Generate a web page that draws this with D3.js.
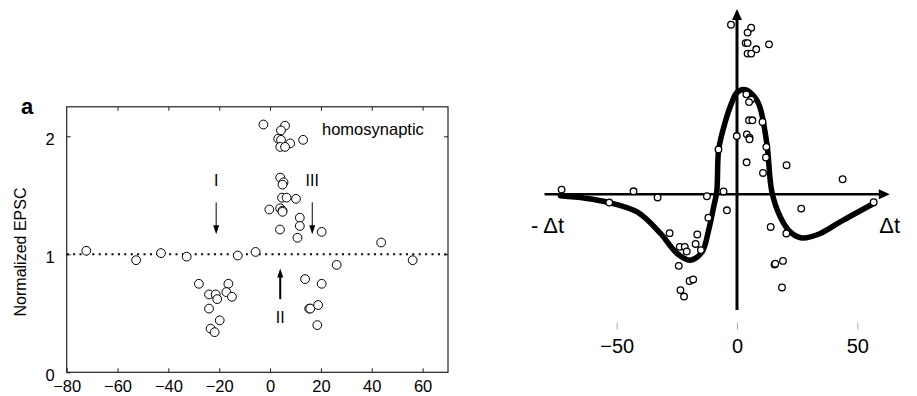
<!DOCTYPE html>
<html><head><meta charset="utf-8">
<script src="https://cdn.jsdelivr.net/npm/d3@7"></script>
<style>
body{margin:0;background:#fff;}
text{font-family:"Liberation Sans",Arial,Helvetica,sans-serif;fill:#000;}
</style></head>
<body><svg id="c" width="917" height="396"></svg>
<script>
// ---------- Panel a (left) data ----------
const leftDt   = [-2.6,5.9,4.3,3.2,4.3,7.9,13.0,4.0,5.9, 4.0,5.3,4.9, 4.7,6.5,10.2, -0.3,4.0,4.9,4.9, 11.7,11.7,3.9,20.3,10.8,43.7,
  -72.3,-52.7,-42.9,-32.8,-12.7,-5.7,26.2,56.1,
  -28,-24,-21.4,-20.8,-24,-16.4,-17.2,-15,-19.8,-23.4,-21.8,
  13.8,20.3,15.4,15.8,18.9,18.6];
const leftEPSC = [2.10,2.09,2.05,1.98,1.97,1.94,1.97,1.91,1.91, 1.65,1.61,1.59, 1.48,1.48,1.47, 1.38,1.39,1.37,1.36, 1.31,1.24,1.21,1.19,1.14,1.10,
  1.03,0.95,1.01,0.98,0.99,1.02,0.91,0.95,
  0.75,0.66,0.66,0.62,0.54,0.75,0.68,0.64,0.44,0.37,0.34,
  0.79,0.75,0.54,0.54,0.57,0.40];
const leftXTicks = [-80,-60,-40,-20,0,20,40,60];
const leftYTicks = [0,1,2];
const leftXDomain = [-80,70];
const leftYDomain = [0,2.25];
const baselineValue = 1;
// annotations: label, dt, label value, arrow from, arrow to
const arrowLabels = ["I","III","II"];
const arrowDt     = [-21.2,16.6,4.0];
const arrowTextV  = [1.63,1.63,0.47];
const arrowFromV  = [1.44,1.44,0.62];
const arrowToV    = [1.17,1.17,0.88];
const arrowWidth  = [1,1,2];

// ---------- Panel b (right) data ----------
const rightDt = [-2.5,5.9,4.4,3.6,4.4,8.0,13.3,4.4,5.9, 3.9,5.9,5.0, 5.0,6.4,10.6, -0.1,4.1,5.2,5.2, -7.7,12.2,12.0,4.0,20.6,10.8,43.9,
  -72.9,-43.0,-33.0,-12.5,-5.6,-53.1,56.8,-4.2,-11.9,
  -28.0,-16.5,-17.2,-23.8,-21.7,-20.9,-15.0,-24.2,-19.7,-18.2,-23.5,-22.0,
  26.7,14.0,20.5,15.6,15.9,19.1,18.7];
const rightEPSC = [2.098,2.079,2.047,1.979,1.979,1.939,1.971,1.911,1.911, 1.647,1.613,1.597, 1.479,1.479,1.468, 1.377,1.388,1.367,1.356, 1.290,1.307,1.238,1.207,1.188,1.138,1.097,
  1.030,1.019,0.979,0.987,1.018,0.946,0.948,0.896,0.848,
  0.748,0.739,0.678,0.659,0.659,0.629,0.638,0.536,0.438,0.448,0.379,0.337,
  0.907,0.788,0.746,0.544,0.550,0.568,0.396];
const fitDt   = [-73.4,-63.0,-53.1,-41.5,-31.9,-24.9,-19.4,-14.5,-11.8,-9.7,-8.4,-7.6,-4.9,-2.1,-0.3,2.7,5.5,8.3,9.7,12.5,14.5,18.0,22.1,27.0,34.6,42.9,56.8];
const fitEPSC = [0.990,0.974,0.946,0.885,0.748,0.616,0.573,0.627,0.767,0.918,1.019,1.291,1.468,1.597,1.654,1.678,1.660,1.608,1.555,1.317,1.015,0.853,0.756,0.717,0.746,0.821,0.940];
const rightXTicks = [-50,0,50];
const rightXDomain = [-80,63.5];
const rightYDomain = [0.25,2.2];

const svg = d3.select("#c");
const FONT = "Liberation Sans, Arial, sans-serif";

// ================= LEFT PANEL =================
const xL = d3.scaleLinear().domain(leftXDomain).range([66.7,448]);
const yL = d3.scaleLinear().domain(leftYDomain).range([372.3,106.8]);
const gL = svg.append("g");

gL.append("rect").attr("x",xL(leftXDomain[0])).attr("y",yL(leftYDomain[1]))
  .attr("width",xL(leftXDomain[1])-xL(leftXDomain[0])).attr("height",yL(leftYDomain[0])-yL(leftYDomain[1]))
  .attr("fill","none").attr("stroke","#222").attr("stroke-width",1.2);

const intFmt = d3.format("d");
const axB = gL.append("g").attr("transform",`translate(0,${yL(0)})`)
  .call(d3.axisBottom(xL).tickValues(leftXTicks).tickFormat(intFmt).tickSizeInner(-4).tickSizeOuter(0).tickPadding(8));
const axT = gL.append("g").attr("transform",`translate(0,${yL(leftYDomain[1])})`)
  .call(d3.axisTop(xL).tickValues(leftXTicks.slice(1)).tickSizeInner(-4).tickSizeOuter(0).tickFormat(""));
const axLf = gL.append("g").attr("transform",`translate(${xL(leftXDomain[0])},0)`)
  .call(d3.axisLeft(yL).tickValues(leftYTicks).tickFormat(intFmt).tickSizeInner(-4).tickSizeOuter(0).tickPadding(12));
const axR = gL.append("g").attr("transform",`translate(${xL(leftXDomain[1])},0)`)
  .call(d3.axisRight(yL).tickValues(leftYTicks.slice(1)).tickSizeInner(-4).tickSizeOuter(0).tickFormat(""));
[axB,axT,axLf,axR].forEach(a=>{a.select(".domain").remove();a.selectAll("line").attr("stroke","#222");
  a.selectAll("text").attr("font-size",16.5).attr("font-family",FONT).attr("fill","#000");});
axLf.selectAll("text").attr("dy","0.5em");

gL.append("line").attr("x1",xL(leftXDomain[0])).attr("x2",xL(leftXDomain[1]))
  .attr("y1",yL(baselineValue)).attr("y2",yL(baselineValue))
  .attr("stroke","#000").attr("stroke-width",2).attr("stroke-dasharray","2,4.4");

arrowLabels.forEach((lab,i)=>{
  const x=xL(arrowDt[i]), y0=yL(arrowFromV[i]), y1=yL(arrowToV[i]);
  const dir = y1>y0?1:-1;
  gL.append("line").attr("x1",x).attr("x2",x).attr("y1",y0).attr("y2",y1-dir*7)
    .attr("stroke","#000").attr("stroke-width",arrowWidth[i]);
  gL.append("path").attr("d",`M${x},${y1} L${x-3},${y1-dir*9} L${x+3},${y1-dir*9} Z`).attr("fill","#000");
  gL.append("text").attr("x",x).attr("y",yL(arrowTextV[i])).attr("dy","0.36em")
    .attr("text-anchor","middle").attr("font-size",16).attr("fill","#000").text(lab);
});

gL.selectAll("circle.p").data(d3.range(leftDt.length)).join("circle")
  .attr("cx",i=>xL(leftDt[i])).attr("cy",i=>yL(leftEPSC[i])).attr("r",4.4)
  .attr("fill","#fff").attr("stroke","#000").attr("stroke-width",1);

gL.append("text").attr("x",322).attr("y",134.5).attr("font-size",16.5).attr("fill","#000").text("homosynaptic");
gL.append("text").attr("x",21).attr("y",114).attr("font-size",22).attr("font-weight","bold").attr("fill","#000").text("a");
gL.append("text").attr("transform",`translate(26,252) rotate(-90)`)
  .attr("text-anchor","middle").attr("font-size",16).attr("fill","#000").text("Normalized EPSC");

// ================= RIGHT PANEL =================
const xR = d3.scaleLinear().domain(rightXDomain).range([544.5,889.8]);
const yR = d3.scaleLinear().domain(rightYDomain).range([310,9]);
const gR = svg.append("g");

const hy = yR(baselineValue);
gR.append("line").attr("x1",xR(rightXDomain[0])).attr("x2",xR(rightXDomain[1])-8)
  .attr("y1",hy).attr("y2",hy).attr("stroke","#000").attr("stroke-width",2.5);
gR.append("path").attr("d",`M${xR(rightXDomain[1])},${hy} L${xR(rightXDomain[1])-11},${hy-5} L${xR(rightXDomain[1])-11},${hy+5} Z`).attr("fill","#000");
const vx = xR(0);
gR.append("line").attr("x1",vx).attr("x2",vx).attr("y1",yR(rightYDomain[0])).attr("y2",yR(rightYDomain[1])+8)
  .attr("stroke","#000").attr("stroke-width",3);
gR.append("path").attr("d",`M${vx},${yR(rightYDomain[1])} L${vx-5},${yR(rightYDomain[1])+11} L${vx+5},${yR(rightYDomain[1])+11} Z`).attr("fill","#000");

gR.append("path").datum(d3.range(fitDt.length))
  .attr("d",d3.line().x(i=>xR(fitDt[i])).y(i=>yR(fitEPSC[i])).curve(d3.curveCatmullRom.alpha(0.5)))
  .attr("fill","none").attr("stroke","#000").attr("stroke-width",5.5).attr("stroke-linecap","round");

gR.selectAll("circle.q").data(d3.range(rightDt.length)).join("circle")
  .attr("cx",i=>xR(rightDt[i])).attr("cy",i=>yR(rightEPSC[i])).attr("r",3.3)
  .attr("fill","#fff").attr("stroke","#000").attr("stroke-width",1.3);

const axRB = gR.append("g").attr("transform","translate(0,322.5)")
  .call(d3.axisBottom(xR).tickValues(rightXTicks).tickSizeInner(7).tickSizeOuter(0).tickPadding(9));
axRB.select(".domain").remove();
axRB.selectAll("line").attr("stroke","#aaa").attr("stroke-width",1);
axRB.selectAll("text").attr("font-size",20).attr("font-family",FONT).attr("fill","#000");

gR.append("text").attr("x",531).attr("y",233).attr("font-size",22).attr("fill","#000").text("- Δt");
gR.append("text").attr("x",900).attr("y",233).attr("text-anchor","end").attr("font-size",22).attr("fill","#000").text("Δt");
</script></body></html>
